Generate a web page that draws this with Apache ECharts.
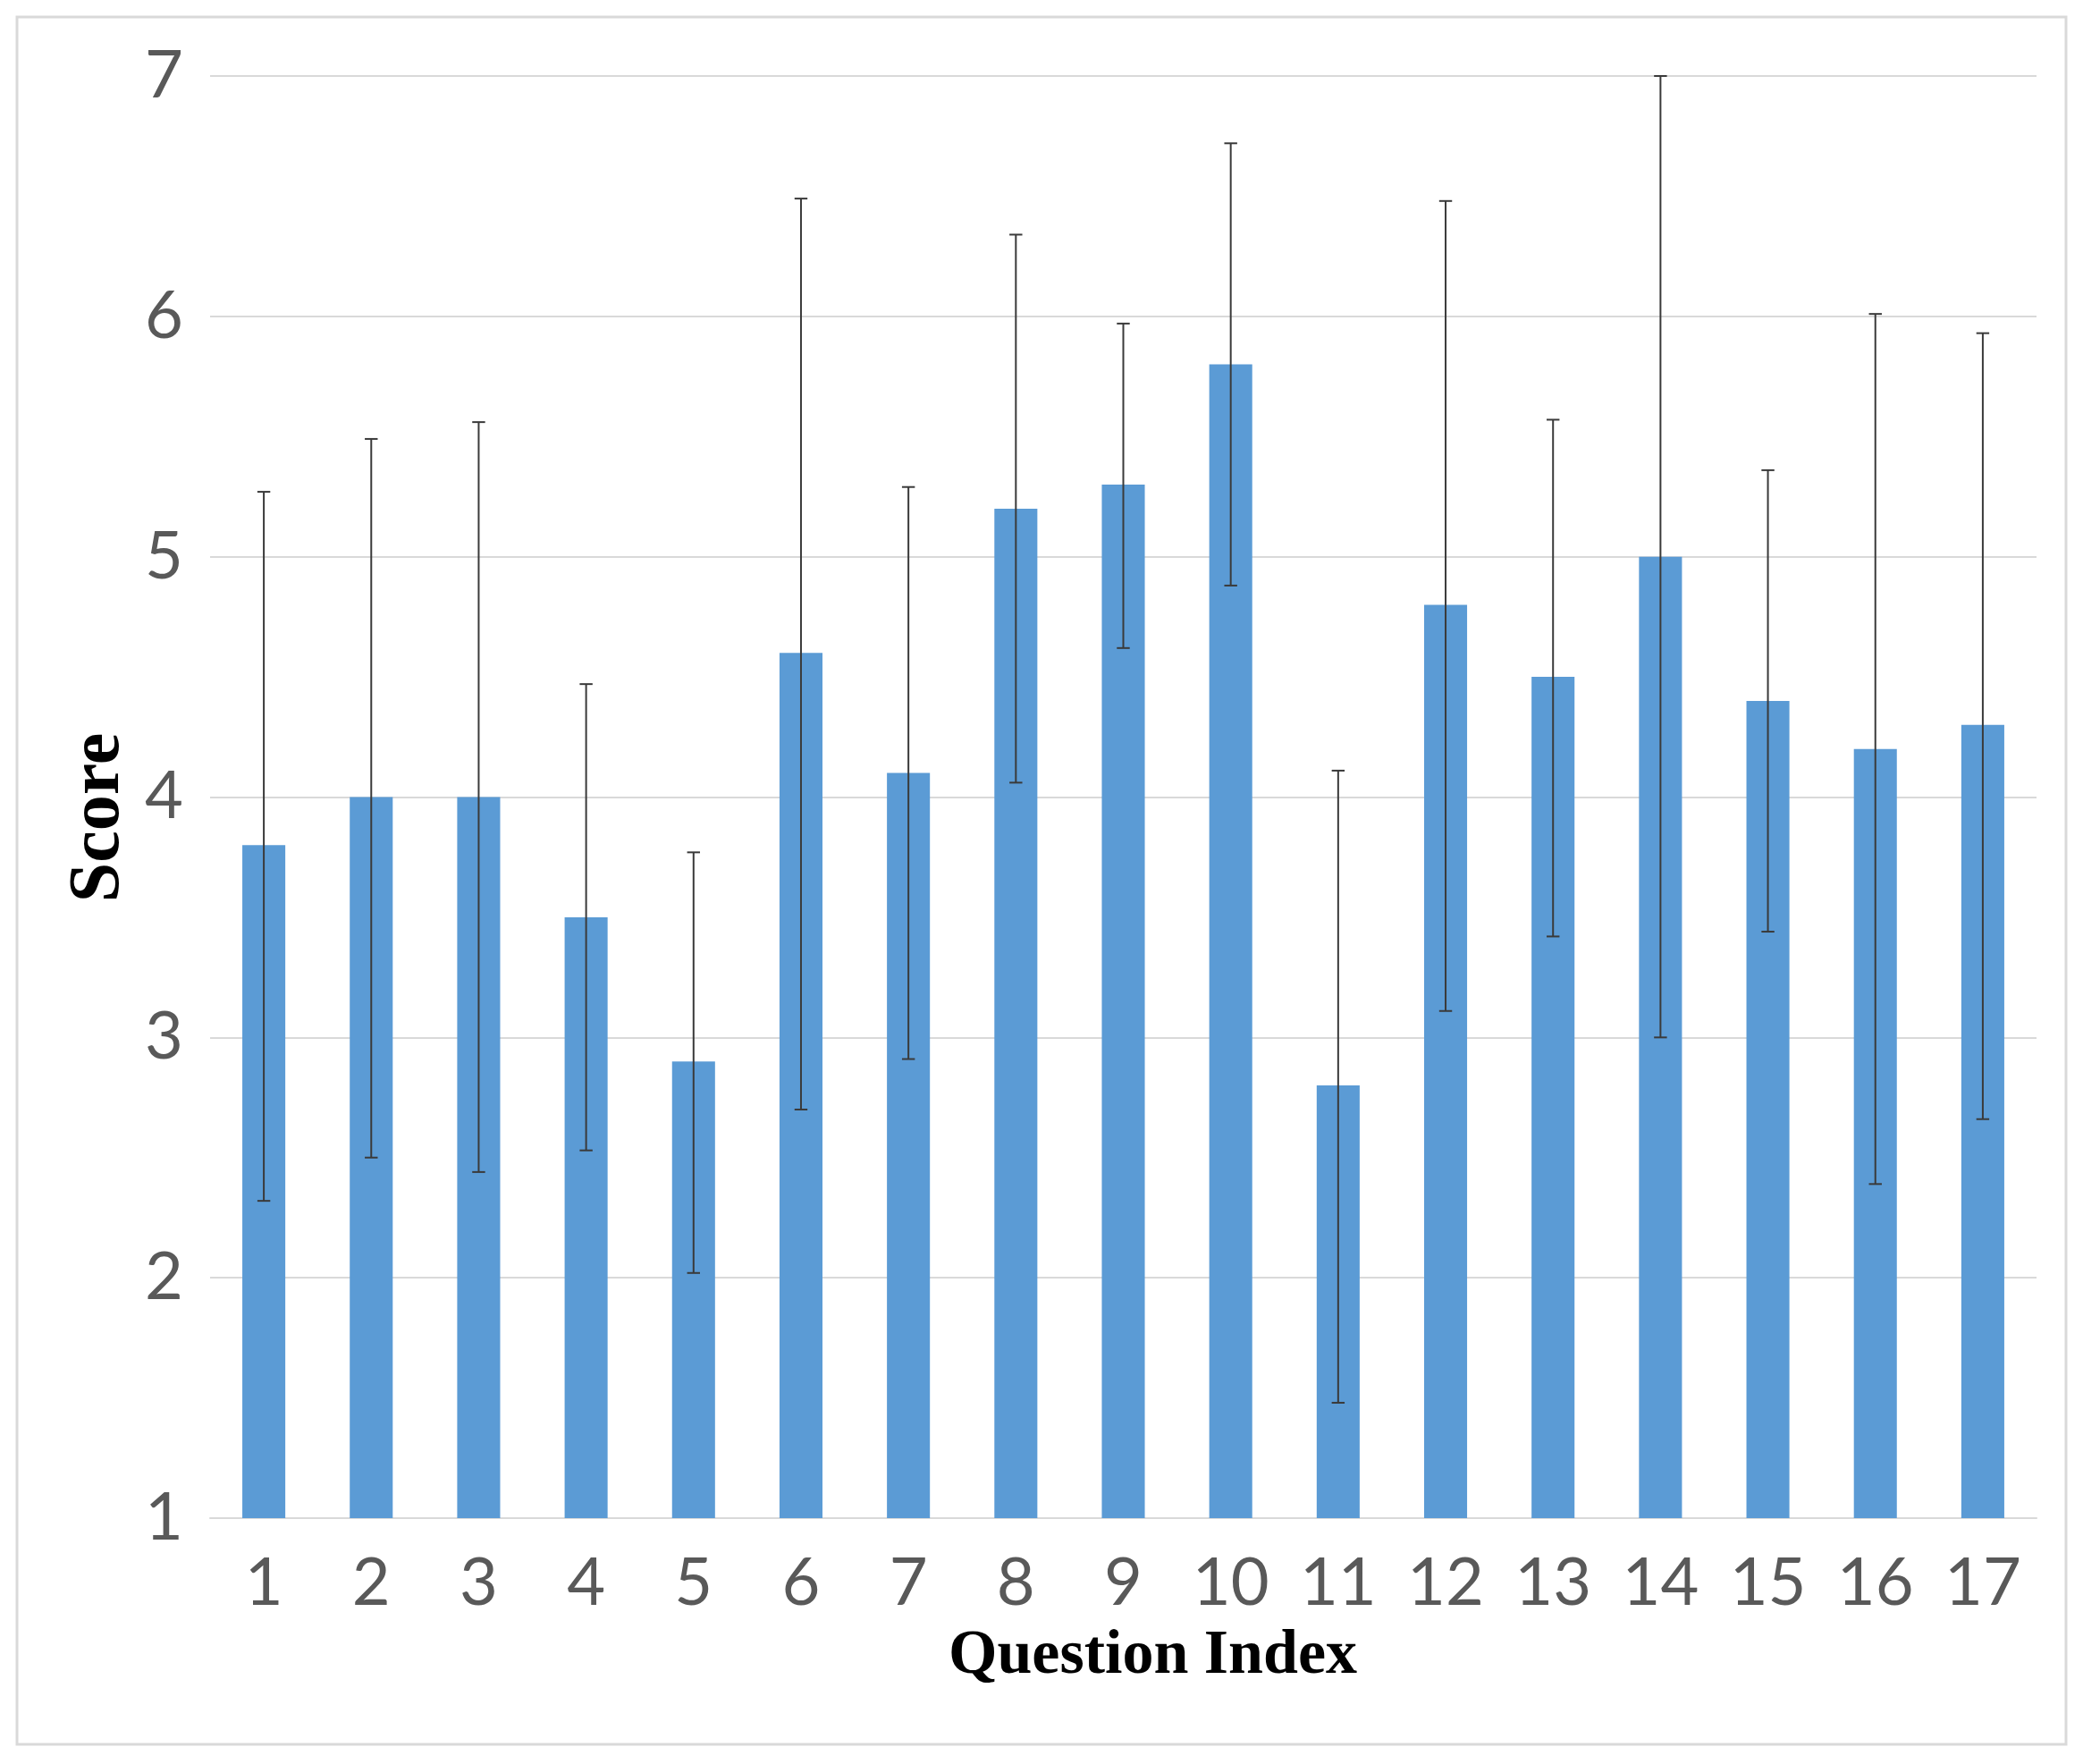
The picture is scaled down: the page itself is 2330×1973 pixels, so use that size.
<!DOCTYPE html>
<html>
<head>
<meta charset="utf-8">
<script src="https://cdn.jsdelivr.net/npm/echarts@6/dist/echarts.min.js"></script>
<style>
html,body{margin:0;padding:0;background:#fff;}
#chart{width:2330px;height:1973px;}
</style>
</head>
<body>
<div id="chart"></div>
<script>
const categories = ['1','2','3','4','5','6','7','8','9','10','11','12','13','14','15','16','17'];
const means = [3.8, 4.0, 4.0, 3.5, 2.9, 4.6, 4.1, 5.2, 5.3, 5.8, 2.8, 4.8, 4.5, 5.0, 4.4, 4.2, 4.3];
const errorLow = [2.32, 2.50, 2.44, 2.53, 2.02, 2.70, 2.91, 4.06, 4.62, 4.88, 1.48, 3.11, 3.42, 3.00, 3.44, 2.39, 2.66];
const errorHigh = [5.27, 5.49, 5.56, 4.47, 3.77, 6.49, 5.29, 6.34, 5.97, 6.72, 4.11, 6.48, 5.57, 7.00, 5.36, 6.01, 5.93];
const yMin = 1, yMax = 7, yStep = 1;

const errorData = categories.map((c, i) => [i, errorLow[i], errorHigh[i]]);

const chart = echarts.init(document.getElementById('chart'), null, {renderer: 'canvas'});
chart.setOption({
  backgroundColor: '#ffffff',
  animation: false,
  graphic: [{
    type: 'rect',
    shape: {x: 19, y: 19, width: 2292, height: 1932},
    style: {fill: 'none', stroke: '#d9d9d9', lineWidth: 3},
    silent: true
  }],
  grid: {left: 235, right: 52, top: 85, bottom: 275, containLabel: false},
  xAxis: {
    type: 'category',
    data: categories,
    name: 'Question Index',
    nameLocation: 'middle',
    nameGap: 120,
    nameTextStyle: {fontFamily: 'Liberation Serif', fontWeight: 'bold', fontSize: 70, color: '#000', padding: [0, 0, 0, 66]},
    axisLine: {show: true, lineStyle: {color: '#d9d9d9', width: 2}},
    axisTick: {show: false},
    axisLabel: {fontFamily: 'Lato', fontSize: 74, color: '#595959', margin: 36, interval: 0}
  },
  yAxis: {
    type: 'value',
    min: yMin, max: yMax, interval: yStep,
    name: 'Score',
    nameLocation: 'middle',
    nameGap: 58,
    nameRotate: 90,
    nameTextStyle: {fontFamily: 'Liberation Serif', fontWeight: 'bold', fontSize: 80, color: '#000', padding: [0, 46, 0, 0]},
    axisLine: {show: false},
    axisTick: {show: false},
    splitLine: {lineStyle: {color: '#d9d9d9', width: 2}},
    axisLabel: {fontFamily: 'Lato', fontSize: 74, color: '#595959', margin: 30}
  },
  series: [{
    type: 'bar',
    data: means,
    barWidth: '40%',
    clip: true,
    itemStyle: {color: '#5b9bd5'}
  }, {
    type: 'custom',
    data: errorData,
    z: 10,
    renderItem: function (params, api) {
      const x = api.value(0);
      const lo = api.coord([x, api.value(1)]);
      const hi = api.coord([x, api.value(2)]);
      const hw = api.size([1, 0])[0] * 0.06;
      const st = {stroke: '#3a3a3a', lineWidth: 2};
      return {
        type: 'group',
        children: [
          {type: 'line', shape: {x1: hi[0], y1: hi[1], x2: lo[0], y2: lo[1]}, style: st},
          {type: 'line', shape: {x1: hi[0] - hw, y1: hi[1], x2: hi[0] + hw, y2: hi[1]}, style: st},
          {type: 'line', shape: {x1: lo[0] - hw, y1: lo[1], x2: lo[0] + hw, y2: lo[1]}, style: st}
        ]
      };
    }
  }]
});
</script>
</body>
</html>
